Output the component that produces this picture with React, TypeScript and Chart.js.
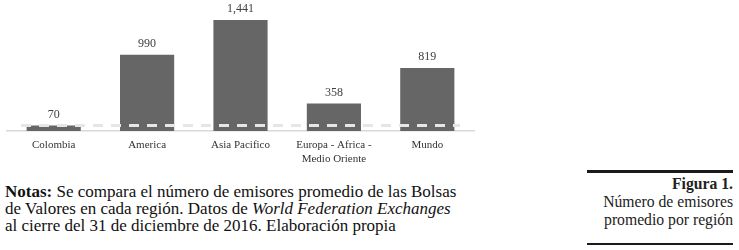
import React, { useEffect, useRef } from "react";
import { Chart, registerables } from "chart.js";

Chart.register(...registerables);

const categories: (string | string[])[] = [
  "Colombia",
  "America",
  "Asia Pacifico",
  ["Europa - Africa -", "Medio Oriente"],
  "Mundo",
];
const issuers: number[] = [70, 990, 1441, 358, 819];
const referenceValue: number = issuers[0];

const SERIF = "'Liberation Serif', 'Times New Roman', serif";

const valueLabels = {
  id: "valueLabels",
  afterDatasetsDraw(chart: any) {
    const ctx = chart.ctx;
    const meta = chart.getDatasetMeta(0);
    ctx.save();
    ctx.font = `12px ${SERIF}`;
    ctx.fillStyle = "#404040";
    ctx.textAlign = "center";
    ctx.textBaseline = "bottom";
    meta.data.forEach((bar: any, i: number) => {
      const v = chart.data.datasets[0].data[i] as number;
      ctx.fillText(v.toLocaleString("en-US"), bar.x, bar.y - 5);
    });
    ctx.restore();
  },
};

const referenceLine = {
  id: "referenceLine",
  afterDatasetsDraw(chart: any) {
    const ctx = chart.ctx;
    const y = chart.scales.y.getPixelForValue(referenceValue);
    const { left, right } = chart.chartArea;
    ctx.save();
    ctx.strokeStyle = "#e6e6e6";
    ctx.lineWidth = 3;
    ctx.setLineDash([10, 8]);
    ctx.beginPath();
    ctx.moveTo(left + 14, y);
    ctx.lineTo(right - 14, y);
    ctx.stroke();
    ctx.restore();
  },
};

function BarChart() {
  const ref = useRef<HTMLCanvasElement | null>(null);
  useEffect(() => {
    if (!ref.current) return;
    const chart = new Chart(ref.current, {
      type: "bar",
      data: {
        labels: categories as any,
        datasets: [
          {
            data: issuers,
            backgroundColor: "#666666",
            barPercentage: 0.58,
            categoryPercentage: 1,
          },
        ],
      },
      options: {
        animation: false,
        responsive: false,
        maintainAspectRatio: false,
        layout: { padding: { top: 20, left: 7, right: 6, bottom: 0 } },
        plugins: {
          legend: { display: false },
          tooltip: { enabled: false },
        },
        scales: {
          x: {
            grid: { display: false, drawTicks: false },
            border: { display: true, color: "#d9d9d9", width: 1.5 },
            ticks: {
              color: "#333333",
              font: { family: SERIF, size: 11 },
              padding: 8,
              maxRotation: 0,
              autoSkip: false,
            },
            afterFit: (scale: any) => {
              scale.height = 39;
            },
          },
          y: {
            display: false,
            min: 0,
            max: 1441,
          },
        },
      },
      plugins: [referenceLine, valueLabels],
    });
    return () => chart.destroy();
  }, []);
  return (
    <canvas
      ref={ref}
      width={480}
      height={170}
      style={{ position: "absolute", left: 0, top: 0, width: 480, height: 170 }}
    />
  );
}

export default function App() {
  return (
    <div
      style={{
        position: "absolute",
        left: 0,
        top: 0,
        width: 739,
        height: 250,
        background: "#ffffff",
        fontFamily: SERIF,
        color: "#111111",
        overflow: "hidden",
      }}
    >
      <BarChart />
      <div
        style={{
          position: "absolute",
          left: 5,
          top: 183,
          width: 500,
          fontSize: 17,
          lineHeight: "17px",
          whiteSpace: "nowrap",
        }}
      >
        <div>
          <b>Notas:</b> Se compara el número de emisores promedio de las Bolsas
        </div>
        <div>
          de Valores en cada región. Datos de <i>World Federation Exchanges</i>
        </div>
        <div>al cierre del 31 de diciembre de 2016. Elaboración propia</div>
      </div>
      <div
        style={{
          position: "absolute",
          left: 587,
          top: 170,
          width: 146,
          height: 70,
          borderTop: "3px solid #1a1a1a",
          borderBottom: "2px solid #1a1a1a",
          textAlign: "right",
          fontSize: 15.7,
          lineHeight: "18px",
          color: "#222222",
          boxSizing: "content-box",
          whiteSpace: "nowrap",
        }}
      >
        <div style={{ marginTop: 2, fontWeight: "bold" }}>Figura 1.</div>
        <div>Número de emisores</div>
        <div>promedio por región</div>
      </div>
    </div>
  );
}
